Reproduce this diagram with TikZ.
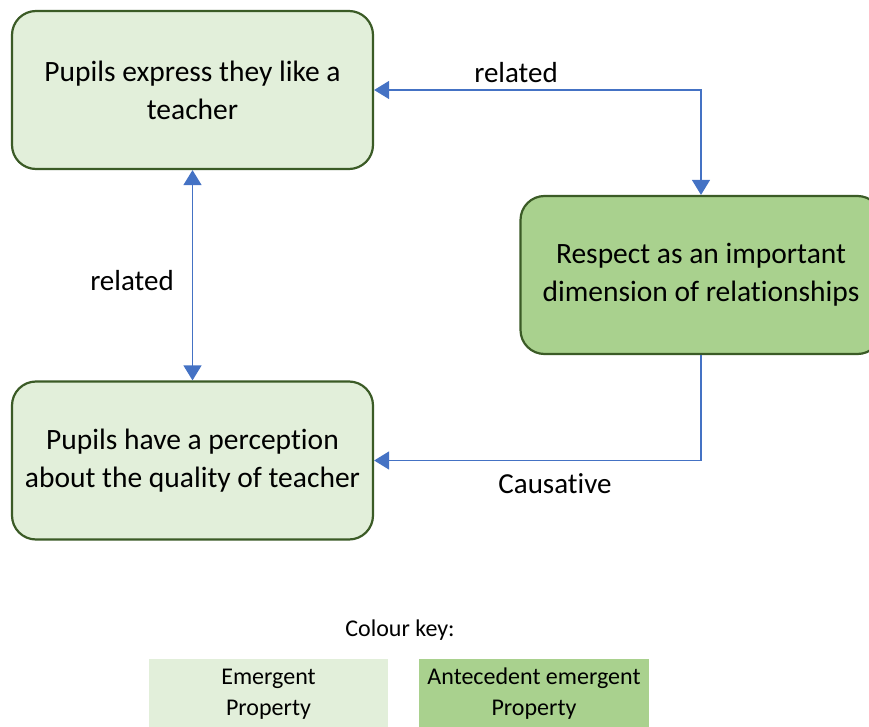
\documentclass[tikz,border=0pt]{standalone}
\usepackage{fontspec}
\setmainfont{Carlito}[Ligatures=NoCommon]
\usetikzlibrary{arrows.meta}
\definecolor{emerg}{HTML}{E2EFDA}
\definecolor{antec}{HTML}{A9D18E}
\definecolor{edge}{HTML}{3B5B26}
\definecolor{linkblue}{HTML}{4472C4}
\tikzset{
  prop/.style={draw=edge, line width=2.2pt, rounded corners=24pt, align=center,
    minimum width=361pt, minimum height=158pt, inner sep=0pt,
    font=\fontsize{29.5}{38}\selectfont},
  emergent/.style={prop, fill=emerg},
  antecedent/.style={prop, fill=antec},
  link/.style={draw=linkblue, line width=1.3pt,
    arrows={Triangle[length=15pt,width=18pt]-Triangle[length=15pt,width=18pt]}},
  linkone/.style={draw=linkblue, line width=1.3pt,
    arrows={-Triangle[length=15pt,width=18pt]}},
  lbl/.style={font=\fontsize{29}{34}\selectfont, inner sep=0pt},
  keybox/.style={minimum width=239pt, minimum height=70pt, inner sep=0pt, align=center,
    font=\fontsize{24}{31}\selectfont},
}
\begin{document}
\begin{tikzpicture}[x=1pt,y=-1pt]
  \useasboundingbox (0,0) rectangle (869,727);
  \clip (0,0) rectangle (869,727);
  % concept boxes
  \node[emergent] (like) at (192.5,90) {Pupils express they like a\\teacher};
  \node[antecedent] (respect) at (701,275) {Respect as an important\\dimension of relationships};
  \node[emergent] (quality) at (192.5,460.5) {Pupils have a perception\\about the quality of teacher};
  % connectors
  \draw[link] (like.east) -| (respect.north);
  \draw[link] (like.south) -- (quality.north);
  \draw[linkone] (respect.south) |- (quality.east);
  % connector labels
  \node[lbl] (rel1) at (516,73) {related};
  \node[lbl] (rel2) at (132,281) {related};
  \node[lbl] (caus) at (555,484) {Causative};
  % colour key
  \node[font=\fontsize{24}{28}\selectfont] (keytitle) at (400,630) {Colour key:};
  \node[keybox, fill=emerg] (keyem) at (268.5,694) {Emergent\\Property};
  \node[keybox, fill=antec, minimum width=230pt] (keyan) at (534,694) {Antecedent emergent\\Property};
\end{tikzpicture}
\end{document}
